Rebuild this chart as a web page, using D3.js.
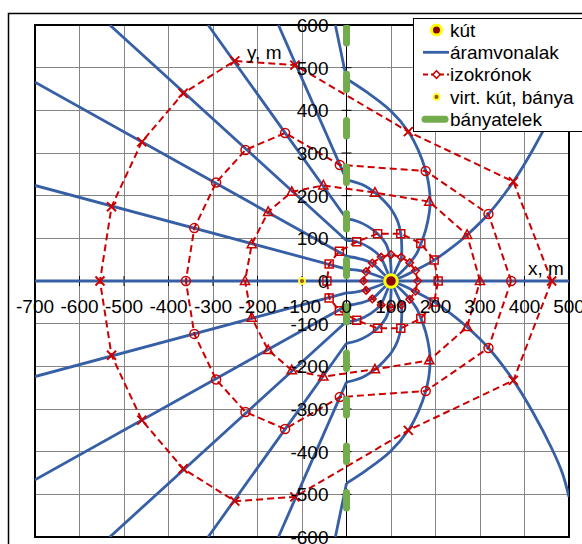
<!DOCTYPE html>
<html>
<head>
<meta charset="utf-8">
<script src="https://cdn.jsdelivr.net/npm/d3@7"></script>
<style>
  body { margin: 0; background: #fff; }
  text { font-family: "Liberation Sans", Arial, sans-serif; font-size: 19px; fill: #000; }
</style>
</head>
<body>
<svg id="chart" width="582" height="544"></svg>
<script>
// ---- data (metres) ----
const xTicks = [-700, -600, -500, -400, -300, -200, -100, 0, 100, 200, 300, 400, 500];
const yTicks = [-600, -500, -400, -300, -200, -100, 0, 100, 200, 300, 400, 500, 600];

const well = [100, 0];          // kút
const virtualWell = [-100, 0];  // virt. kút, bánya
const boundary = [[0, 600], [0, -600]]; // bányatelek

// streamlines: curved part inside x > 0
const streamCurved = [
  [[100, 0], [500, 0]],
  [[100, 0], [0, 0]],
  [[100, 0], [128, 11], [155, 25], [197, 49], [235, 77], [271, 108], [319, 157], [375, 233], [420, 310], [461, 392], [485, 450], [500, 506]],
  [[100, 0], [122, 20], [142, 42], [158, 65], [167, 87], [178, 120], [186, 160], [188, 186], [185, 225], [178, 258], [162, 305], [139, 350], [98, 400], [45, 443], [0, 474]],
  [[100, 0], [112, 28], [123, 55], [124, 85], [122, 111], [115, 140], [102, 166], [84, 188], [64, 207], [35, 226], [0, 237]],
  [[100, 0], [100, 30], [97, 60], [88, 88], [70, 111], [48, 128], [24, 140], [0, 146]],
  [[100, 0], [89, 28], [77, 55], [55, 76], [23, 92], [0, 95]],
  [[100, 0], [79, 21], [57, 42], [30, 52], [0, 58]],
  [[100, 0], [72, 11], [45, 21], [20, 26], [0, 28]],
  [[100, 0], [128, -11], [155, -25], [197, -49], [235, -77], [271, -108], [319, -157], [375, -233], [420, -310], [461, -392], [485, -450], [500, -506]],
  [[100, 0], [122, -20], [142, -42], [158, -65], [167, -87], [178, -120], [186, -160], [188, -186], [185, -225], [178, -258], [162, -305], [139, -350], [98, -400], [45, -443], [0, -474]],
  [[100, 0], [112, -28], [123, -55], [124, -85], [122, -111], [115, -140], [102, -166], [84, -188], [64, -207], [35, -226], [0, -237]],
  [[100, 0], [100, -30], [97, -60], [88, -88], [70, -111], [48, -128], [24, -140], [0, -146]],
  [[100, 0], [89, -28], [77, -55], [55, -76], [23, -92], [0, -95]],
  [[100, 0], [79, -21], [57, -42], [30, -52], [0, -58]],
  [[100, 0], [72, -11], [45, -21], [20, -26], [0, -28]]
];

// streamlines: straight continuation inside the mine (x < 0)
const streamStraight = [
  [[0, 0], [-700, 0]],
  [[0, 474], [-25, 600]],
  [[0, 237], [-153, 600]],
  [[0, 146], [-311, 600]],
  [[0, 95], [-532, 600]],
  [[0, 58], [-700, 466]],
  [[0, 28], [-700, 224]],
  [[0, -474], [-25, -600]],
  [[0, -237], [-153, -600]],
  [[0, -146], [-311, -600]],
  [[0, -95], [-532, -600]],
  [[0, -58], [-700, -466]],
  [[0, -28], [-700, -224]]
];

// isochrones (closed rings)
const isoDiamond = [[160, 0], [155, 24], [142, 43], [123, 56], [100, 62], [78, 56], [58, 42], [44, 22], [38, 0],
  [44, -22], [58, -42], [78, -56], [100, -62], [123, -56], [142, -43], [155, -24], [160, 0]];
const isoSquare = [[206, 0], [197, 49], [167, 88], [122, 111], [70, 111], [23, 92], [-16, 70], [-39, 40], [-44, 0],
  [-39, -40], [-16, -70], [23, -92], [70, -111], [122, -111], [167, -88], [197, -49], [206, 0]];
const isoTriangle = [[300, 0], [271, 108], [186, 186], [64, 207], [-52, 224], [-123, 209], [-176, 162], [-213, 86], [-228, 0],
  [-213, -86], [-176, -162], [-123, -209], [-52, -224], [64, -207], [186, -186], [271, -108], [300, 0]];
const isoCircle = [[370, 0], [319, 157], [178, 258], [-15, 272], [-138, 347], [-227, 307], [-293, 231], [-342, 124], [-361, 0],
  [-342, -124], [-293, -231], [-227, -307], [-138, -347], [-15, -272], [178, -258], [319, -157], [370, 0]];
const isoCross = [[461, 0], [375, 233], [139, 350], [-116, 506], [-251, 516], [-367, 440], [-460, 326], [-528, 174], [-554, 0],
  [-528, -174], [-460, -326], [-367, -440], [-251, -516], [-116, -506], [139, -350], [375, -233], [461, 0]];

const legendItems = ["kút", "áramvonalak", "izokrónok", "virt. kút, bánya", "bányatelek"];

// ---- drawing ----
const BLUE = "#365fa5", RED = "#cc0000", GREEN = "#72ac4d";
const svg = d3.select("#chart");
const x = d3.scaleLinear().domain([-700, 500]).range([35, 569]);
const y = d3.scaleLinear().domain([-600, 600]).range([537, 25]);

svg.append("rect").attr("width", 582).attr("height", 544).attr("fill", "#fff");
// chart frame
svg.append("rect").attr("x", 8.5).attr("y", 13.5).attr("width", 620).attr("height", 600)
  .attr("fill", "none").attr("stroke", "#000").attr("stroke-width", 1.5);

svg.append("clipPath").attr("id", "plot").append("rect")
  .attr("x", x(-700)).attr("y", y(600)).attr("width", x(500) - x(-700)).attr("height", y(-600) - y(600));

// grid
const grid = svg.append("g").attr("stroke", "#858585").attr("stroke-width", 1).attr("shape-rendering", "crispEdges");
grid.selectAll(".gx").data(xTicks).join("line")
  .attr("x1", d => x(d)).attr("x2", d => x(d)).attr("y1", y(600)).attr("y2", y(-600));
grid.selectAll(".gy").data(yTicks).join("line")
  .attr("y1", d => y(d)).attr("y2", d => y(d)).attr("x1", x(-700)).attr("x2", x(500));
svg.append("rect").attr("x", x(-700)).attr("y", y(600)).attr("width", x(500) - x(-700)).attr("height", y(-600) - y(600))
  .attr("fill", "none").attr("stroke", "#000").attr("stroke-width", 1.2).attr("shape-rendering", "crispEdges");

// axes through the origin
const axes = svg.append("g").attr("stroke", "#000").attr("stroke-width", 1);
axes.append("line").attr("x1", x(0)).attr("x2", x(0)).attr("y1", y(600)).attr("y2", y(-600));
axes.append("line").attr("x1", x(-700)).attr("x2", x(500)).attr("y1", y(0)).attr("y2", y(0));
axes.selectAll(".ty").data(yTicks).join("line")
  .attr("x1", x(0) - 5).attr("x2", x(0) + 5).attr("y1", d => y(d)).attr("y2", d => y(d));
axes.selectAll(".tx").data(xTicks).join("line")
  .attr("x1", d => x(d)).attr("x2", d => x(d)).attr("y1", y(0) - 5).attr("y2", y(0) + 5);

const plot = svg.append("g").attr("clip-path", "url(#plot)");

// streamlines
const smooth = d3.line().x(d => x(d[0])).y(d => y(d[1])).curve(d3.curveCatmullRom.alpha(0.5));
const straight = d3.line().x(d => x(d[0])).y(d => y(d[1]));
plot.append("g").selectAll("path").data(streamCurved).join("path")
  .attr("d", smooth).attr("fill", "none").attr("stroke", BLUE).attr("stroke-width", 2.8);
plot.append("g").selectAll("path").data(streamStraight).join("path")
  .attr("d", straight).attr("fill", "none").attr("stroke", BLUE).attr("stroke-width", 2.8);

// isochrones
const markerPaths = {
  diamond: "M0,-3.8L3.8,0L0,3.8L-3.8,0Z",
  square: "M-4,-4H4V4H-4Z",
  triangle: "M0,-5L4.6,3.5H-4.6Z",
  circle: "M4.5,0A4.5,4.5 0 1 1 -4.5,0A4.5,4.5 0 1 1 4.5,0Z",
  cross: "M-4.5,-4.5L4.5,4.5M-4.5,4.5L4.5,-4.5"
};
const rings = [[isoDiamond, "diamond"], [isoSquare, "square"], [isoTriangle, "triangle"], [isoCircle, "circle"], [isoCross, "cross"]];
rings.forEach(([pts, m]) => {
  const g = plot.append("g");
  g.append("path").attr("d", straight(pts)).attr("fill", "none").attr("stroke", RED)
    .attr("stroke-width", 2).attr("stroke-dasharray", "7,4");
  g.selectAll("path.m").data(pts.slice(0, -1)).join("path").attr("class", "m")
    .attr("transform", d => `translate(${x(d[0])},${y(d[1])})`)
    .attr("d", markerPaths[m]).attr("fill", "none").attr("stroke", RED)
    .attr("stroke-width", m === "cross" ? 2 : 1.5);
});

// mine boundary
plot.append("path").attr("d", straight(boundary)).attr("fill", "none").attr("stroke", GREEN)
  .attr("stroke-width", 7).attr("stroke-linecap", "round")
  .attr("stroke-dasharray", "15.5,31").attr("stroke-dashoffset", -2.5);

// wells
plot.append("circle").attr("cx", x(well[0])).attr("cy", y(well[1])).attr("r", 6.3)
  .attr("fill", "#8b0000").attr("stroke", "#ffff00").attr("stroke-width", 3);
plot.append("circle").attr("cx", x(virtualWell[0])).attr("cy", y(virtualWell[1])).attr("r", 3)
  .attr("fill", "#9a5a14").attr("stroke", "#ffff33").attr("stroke-width", 1.8);

// tick labels
svg.append("g").selectAll("text").data(xTicks).join("text")
  .attr("x", d => x(d)).attr("y", y(0) + 32).attr("text-anchor", "middle").text(d => d);
svg.append("g").selectAll("text").data(yTicks).join("text")
  .attr("x", x(0) - 18).attr("y", d => y(d)).attr("dy", "0.36em").attr("text-anchor", "end").text(d => d);
svg.append("text").attr("x", 528).attr("y", 275).text("x, m");
svg.append("text").attr("x", 247).attr("y", 59).text("y, m");

// legend
const lg = svg.append("g");
lg.append("rect").attr("x", 413.5).attr("y", 18.5).attr("width", 200).attr("height", 113)
  .attr("fill", "#fff").attr("stroke", "#000").attr("stroke-width", 1);
const rowY = i => 30 + i * 22.3;
lg.selectAll("text").data(legendItems).join("text")
  .attr("x", 450).attr("y", (d, i) => rowY(i)).attr("dy", "0.36em").text(d => d);
lg.append("circle").attr("cx", 436.5).attr("cy", rowY(0)).attr("r", 5)
  .attr("fill", "#8b0000").attr("stroke", "#ffff00").attr("stroke-width", 3);
lg.append("line").attr("x1", 423).attr("x2", 449).attr("y1", rowY(1)).attr("y2", rowY(1))
  .attr("stroke", BLUE).attr("stroke-width", 2.8);
lg.append("line").attr("x1", 423).attr("x2", 449).attr("y1", rowY(2)).attr("y2", rowY(2))
  .attr("stroke", RED).attr("stroke-width", 2).attr("stroke-dasharray", "5,3");
lg.append("path").attr("transform", `translate(436.5,${rowY(2)})`).attr("d", markerPaths.diamond)
  .attr("fill", "#fff").attr("stroke", RED).attr("stroke-width", 1.5);
lg.append("circle").attr("cx", 436.5).attr("cy", rowY(3)).attr("r", 3)
  .attr("fill", "#9a5a14").attr("stroke", "#ffff33").attr("stroke-width", 1.8);
lg.append("line").attr("x1", 425).attr("x2", 445).attr("y1", rowY(4)).attr("y2", rowY(4))
  .attr("stroke", GREEN).attr("stroke-width", 7).attr("stroke-linecap", "round");
</script>
</body>
</html>
